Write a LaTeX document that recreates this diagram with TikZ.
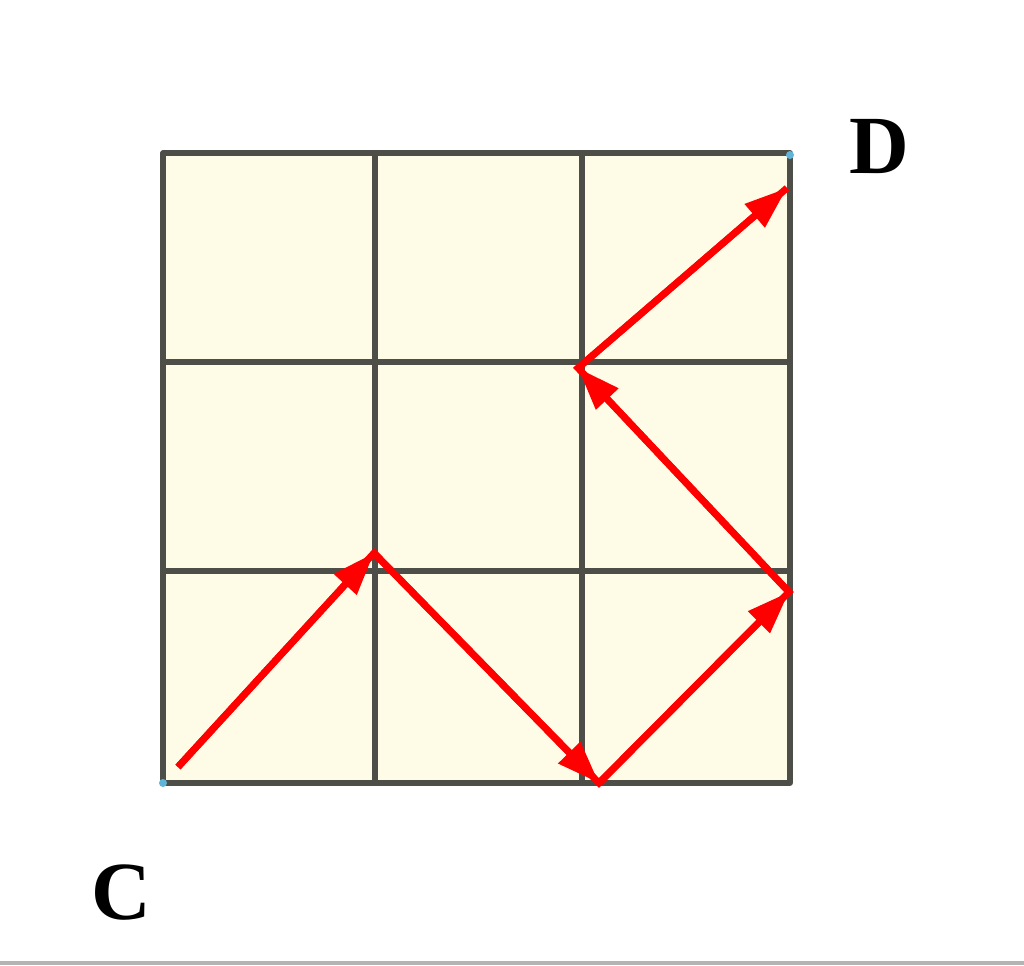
\documentclass[tikz,border=0pt]{standalone}
\usepackage{fontspec}
\setmainfont{Liberation Serif}
\usetikzlibrary{arrows.meta}
\definecolor{cellfill}{HTML}{FEFCE6}
\definecolor{gridcol}{HTML}{4E4E48}
\definecolor{barcol}{HTML}{B4B4B4}
\definecolor{dotcol}{HTML}{5FB4D8}
\begin{document}
\begin{tikzpicture}[x=0.75pt,y=-0.75pt,
  gridline/.style={draw=gridcol,line width=3.8pt,line cap=round,line join=round},
  path/.style={draw=red,line width=5.2pt,-{Triangle[length=32pt,width=22pt]},shorten >=0pt},
  lbl/.style={font=\fontsize{62}{62}\selectfont\bfseries,inner sep=0pt}]
\useasboundingbox (0,0) rectangle (1024,965);
\fill[white] (0,0) rectangle (1024,965);
\fill[barcol] (0,961) rectangle (1024,965);
% grid
\fill[cellfill] (163,153) rectangle (790,783);
\draw[gridline] (163,153) rectangle (790,783);
\draw[gridline] (375,153) -- (375,783);
\draw[gridline] (582,153) -- (582,783);
\draw[gridline] (163,362) -- (790,362);
\draw[gridline] (163,571) -- (790,571);
% corner marks
\fill[dotcol] (163,783) circle (3pt);
\fill[dotcol] (790,155) circle (3pt);
% points
\coordinate (p0) at (178,767);
\coordinate (p1) at (374,553);
\coordinate (p2) at (599,783);
\coordinate (p3) at (789,592);
\coordinate (p4) at (578,368);
\coordinate (p5) at (787,188);
\draw[path] (p0) -- (p1);
\draw[path] (p1) -- (p2);
\draw[path] (p2) -- (p3);
\draw[path] (p3) -- (p4);
\draw[path] (p4) -- (p5);
\draw[red,line width=5.2pt,line join=miter] (p0) -- (p1) -- (p2) -- (p3) -- (p4) -- (p5);
% labels
\node[lbl] (C) at (121,893) {C};
\node[lbl] (D) at (879,147) {D};
\end{tikzpicture}
\end{document}
